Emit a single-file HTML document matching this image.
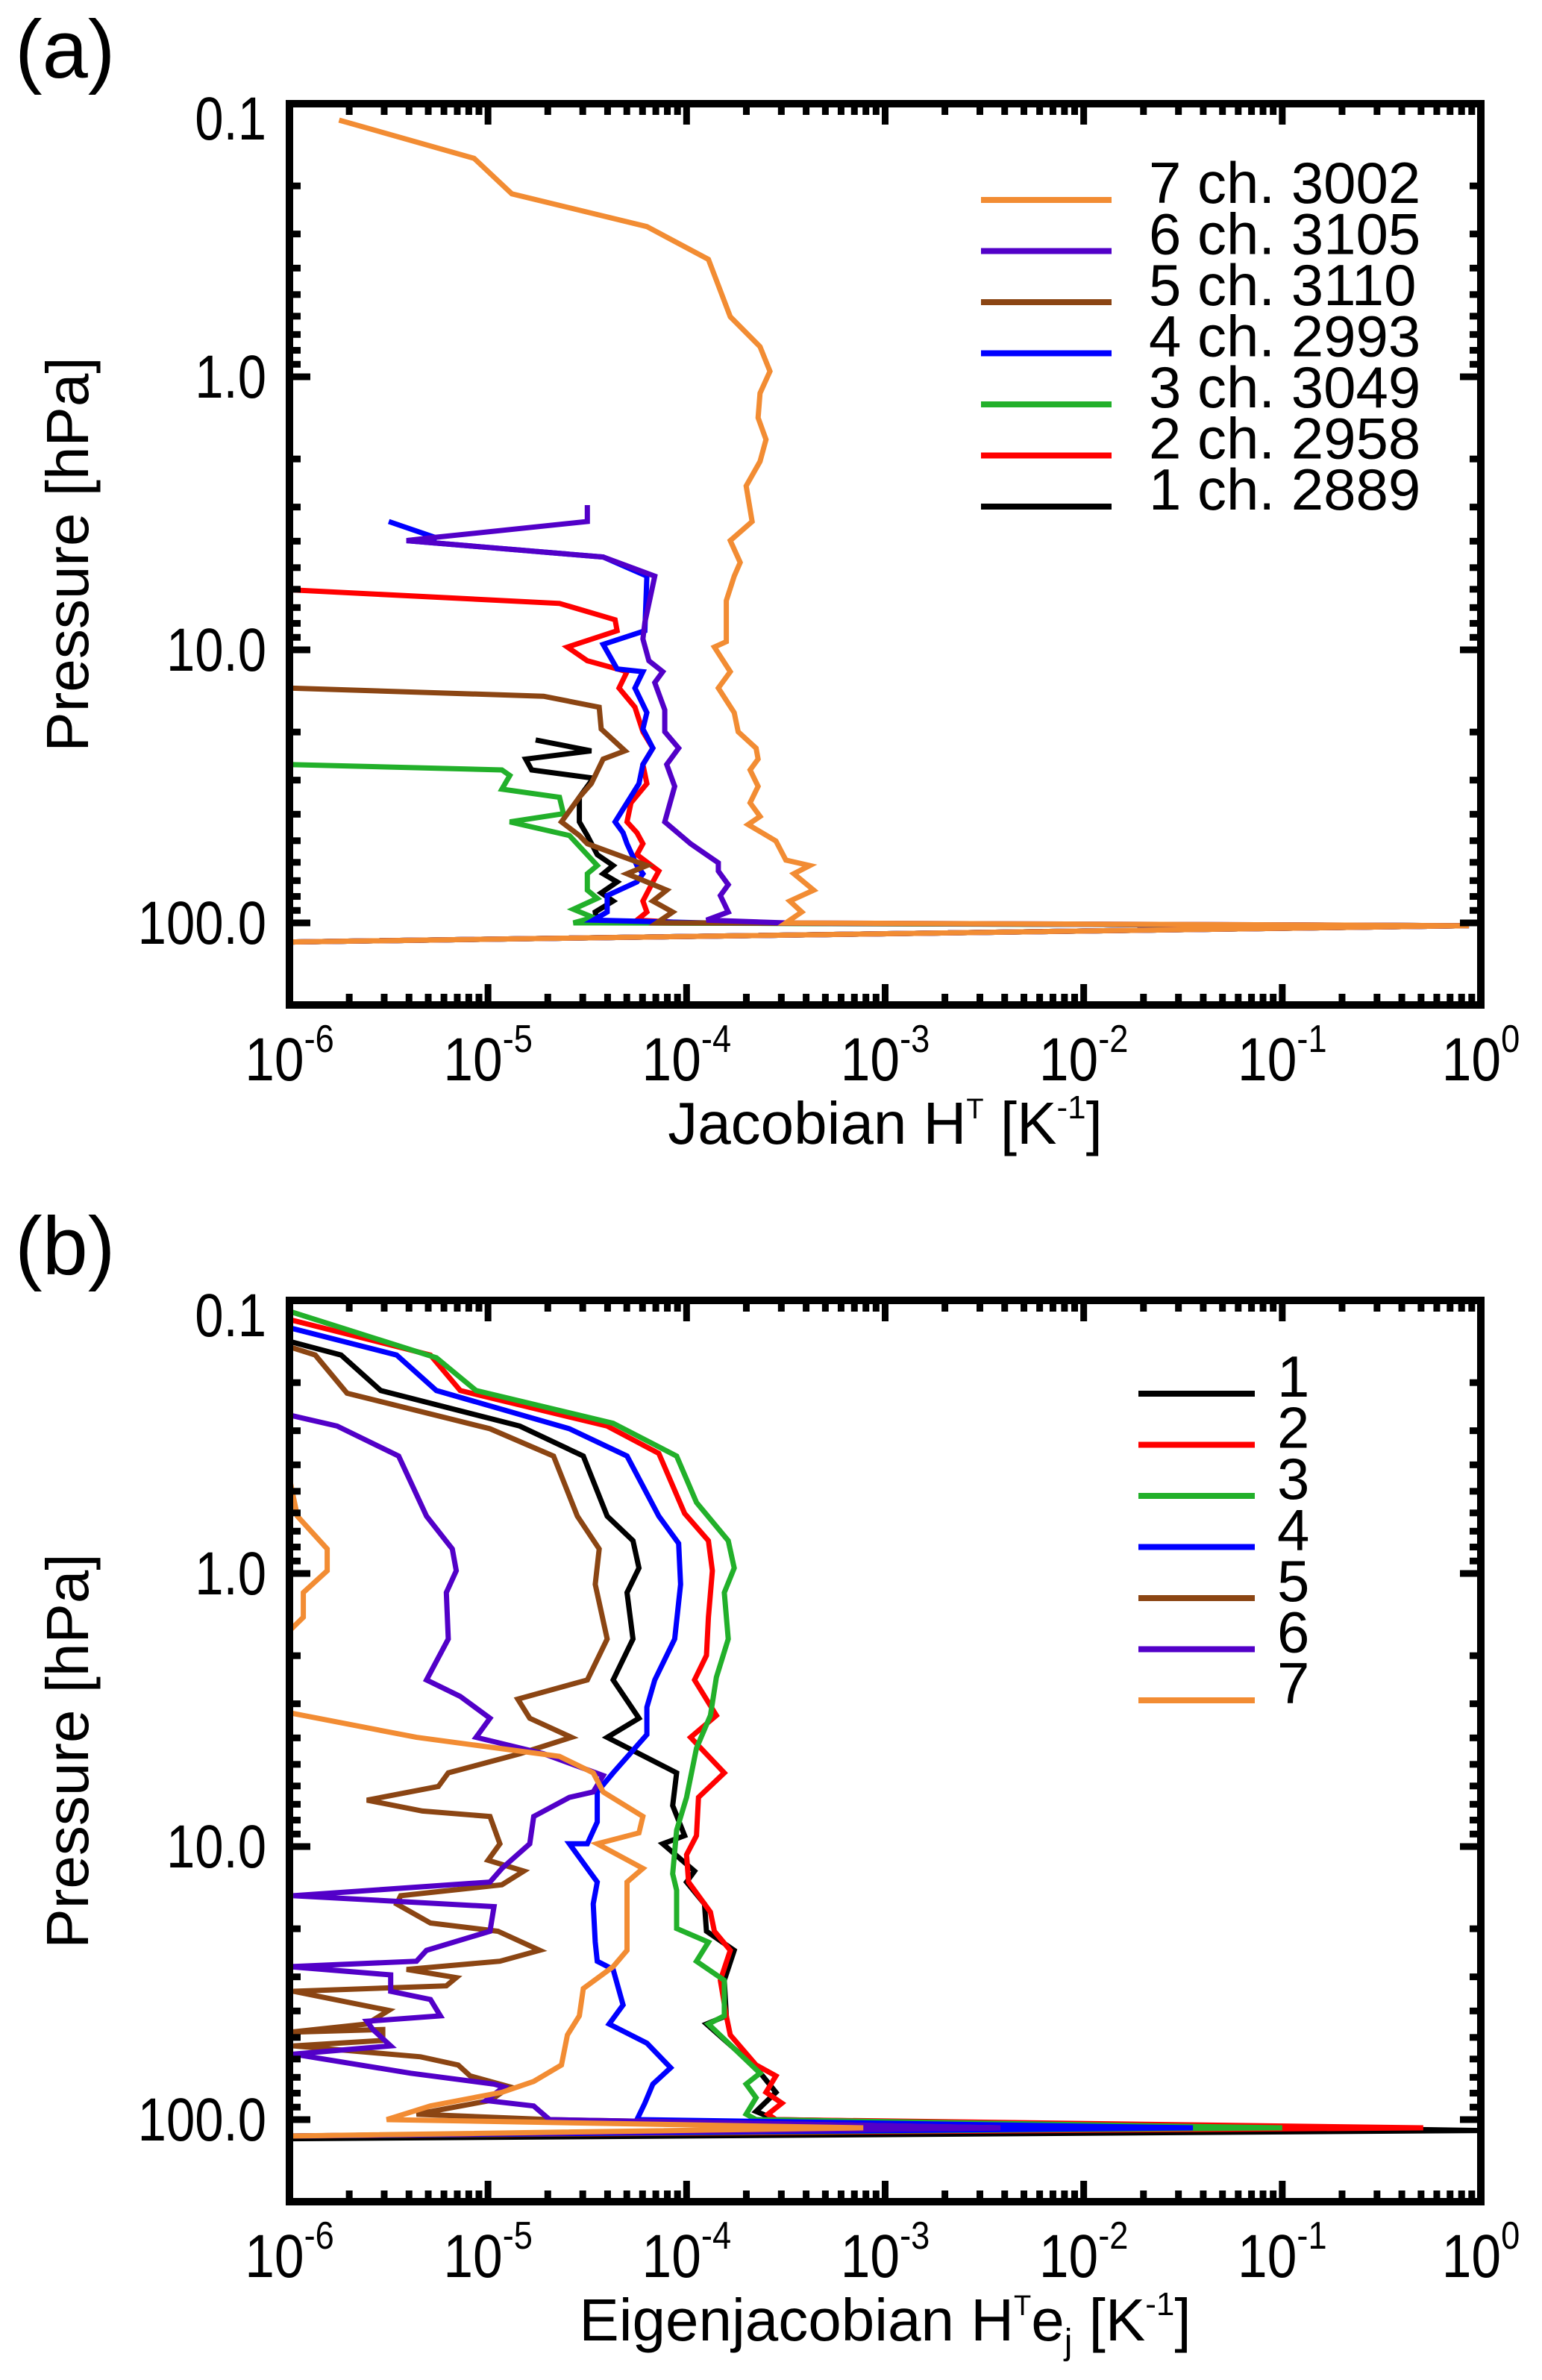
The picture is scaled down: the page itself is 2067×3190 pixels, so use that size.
<!DOCTYPE html>
<html><head><meta charset="utf-8"><style>
html,body{margin:0;padding:0;background:#fff;}
svg{display:block;font-family:"Liberation Sans",Arial,sans-serif;}
</style></head><body>
<svg id="fig" width="2067" height="3190" viewBox="0 0 2067 3190" xmlns="http://www.w3.org/2000/svg">
<defs>
<clipPath id="clipA"><rect x="388" y="139" width="1597" height="1208"/></clipPath>
<clipPath id="clipB"><rect x="388" y="1743" width="1597" height="1206"/></clipPath>
</defs>
<text x="20" y="104" font-size="110">(a)</text>
<text x="20" y="1708" font-size="110">(b)</text>
<g id="panelA"></g>
<g id="panelB"></g>
</svg>
<script>
// ---- axis tick values ----
const xTickExps = [-6, -5, -4, -3, -2, -1, 0];
const yTickLabels = ["0.1", "1.0", "10.0", "100.0"];
const yTickLogs = [-1, 0, 1, 2];
const colors = {1:"#000000",2:"#ff0000",3:"#22b02a",4:"#0000ff",5:"#8b4513",6:"#5200c8",7:"#f28c33"};

// ---- panel (a) legend ----
const aLegendOrder = [7, 6, 5, 4, 3, 2, 1];
const aLegendLabels = ["7 ch. 3002", "6 ch. 3105", "5 ch. 3110", "4 ch. 2993", "3 ch. 3049", "2 ch. 2958", "1 ch. 2889"];
// ---- panel (b) legend ----
const bLegendOrder = [1, 2, 3, 4, 5, 6, 7];
const bLegendLabels = ["1", "2", "3", "4", "5", "6", "7"];

// ---- panel (a) data: log10 Jacobian [K^-1] vs log10 pressure [hPa] ----
const a1LogJac = [-4.76,-4.48,-4.81,-4.78,-4.47,-4.54,-4.54,-4.50,-4.45,-4.37,-4.42,-4.35,-4.43,-4.37,-4.46,-4.45,-4.20,-0.06,-6];
const a1LogP   = [1.33,1.37,1.40,1.44,1.47,1.54,1.63,1.68,1.75,1.79,1.82,1.85,1.89,1.92,1.96,2.00,2.00,2.01,2.07];
const a2LogJac = [-6,-4.64,-4.36,-4.35,-4.60,-4.50,-4.30,-4.34,-4.26,-4.22,-4.17,-4.22,-4.20,-4.28,-4.30,-4.25,-4.22,-4.25,-4.14,-4.17,-4.22,-4.20,-4.25,-4.00,-0.06,-6];
const a2LogP   = [0.78,0.83,0.89,0.93,0.99,1.04,1.08,1.14,1.21,1.30,1.36,1.42,1.49,1.56,1.63,1.67,1.71,1.75,1.81,1.85,1.92,1.96,1.99,2.00,2.01,2.07];
const a3LogJac = [-6,-4.93,-4.89,-4.93,-4.64,-4.62,-4.89,-4.59,-4.45,-4.50,-4.50,-4.45,-4.57,-4.47,-4.57,-4.45,-0.06,-6];
const a3LogP   = [1.42,1.44,1.46,1.51,1.54,1.60,1.63,1.68,1.79,1.82,1.88,1.91,1.95,1.98,2.00,2.00,2.01,2.07];
const a4LogJac = [-5.50,-5.26,-5.41,-4.42,-4.20,-4.21,-4.42,-4.35,-4.22,-4.26,-4.20,-4.22,-4.17,-4.22,-4.24,-4.30,-4.36,-4.32,-4.30,-4.25,-4.22,-4.25,-4.40,-4.40,-4.47,-3.90,-0.06,-6];
const a4LogP   = [0.53,0.59,0.60,0.66,0.73,0.93,0.98,1.07,1.08,1.14,1.23,1.29,1.36,1.42,1.49,1.56,1.63,1.67,1.71,1.79,1.82,1.85,1.90,1.96,1.99,2.00,2.01,2.07];
const a5LogJac = [-6,-4.72,-4.44,-4.43,-4.31,-4.42,-4.48,-4.54,-4.63,-4.54,-4.50,-4.20,-4.30,-4.10,-4.17,-4.07,-4.15,-3.90,-0.06,-6];
const a5LogP   = [1.14,1.17,1.21,1.29,1.37,1.40,1.49,1.54,1.63,1.68,1.71,1.79,1.82,1.88,1.92,1.96,2.00,2.00,2.01,2.07];
const a6LogJac = [-4.50,-4.50,-5.29,-5.41,-4.42,-4.16,-4.21,-4.22,-4.19,-4.12,-4.16,-4.11,-4.11,-4.04,-4.10,-4.06,-4.11,-3.98,-3.84,-3.84,-3.79,-3.83,-3.79,-3.90,-3.50,-0.06,-6];
const a6LogP   = [0.47,0.53,0.59,0.60,0.66,0.73,0.90,0.96,1.04,1.08,1.12,1.22,1.30,1.36,1.42,1.50,1.63,1.71,1.78,1.81,1.86,1.90,1.96,1.99,2.00,2.01,2.07];
const a7LogJac = [-5.75,-5.07,-4.88,-4.20,-3.89,-3.78,-3.63,-3.58,-3.63,-3.64,-3.60,-3.63,-3.70,-3.67,-3.78,-3.73,-3.76,-3.80,-3.80,-3.86,-3.78,-3.84,-3.76,-3.74,-3.65,-3.64,-3.68,-3.64,-3.68,-3.63,-3.69,-3.55,-3.50,-3.38,-3.46,-3.36,-3.48,-3.42,-3.50,-0.06,-6];
const a7LogP   = [-0.94,-0.80,-0.67,-0.55,-0.43,-0.22,-0.11,-0.02,0.06,0.15,0.23,0.31,0.40,0.53,0.60,0.68,0.73,0.82,0.97,0.99,1.08,1.14,1.23,1.30,1.36,1.40,1.44,1.50,1.56,1.61,1.64,1.70,1.77,1.79,1.82,1.88,1.92,1.96,2.00,2.01,2.07];

// ---- panel (b) data: log10 Eigenjacobian [K^-1] vs log10 pressure [hPa] (null = gap) ----
const b1LogJac = [-6,-5.74,-5.54,-4.84,-4.52,-4.40,-4.27,-4.24,-4.30,-4.27,-4.37,-4.24,-4.40,-4.05,-4.07,-4.01,-4.12,-3.96,-4.00,-3.91,-3.90,-3.76,-3.81,-3.80,-3.90,-3.76,-3.65,-3.55,-3.65,-3.55,0,-6];
const b1LogP   = [-0.85,-0.80,-0.67,-0.54,-0.43,-0.21,-0.12,-0.02,0.07,0.24,0.39,0.53,0.60,0.73,0.85,0.96,0.99,1.09,1.13,1.21,1.31,1.38,1.49,1.62,1.65,1.74,1.81,1.90,1.97,2.00,2.04,2.07];
const b2LogJac = [-6,-5.29,-5.14,-4.40,-4.14,-4.01,-3.89,-3.87,-3.89,-3.90,-3.96,-3.85,-3.98,-3.81,-3.94,-3.95,-4.00,-3.99,-3.88,-3.86,-3.78,-3.83,-3.80,-3.78,-3.65,-3.55,-3.60,-3.52,-3.59,-3.55,-0.29,-6];
const b2LogP   = [-0.93,-0.80,-0.67,-0.54,-0.44,-0.22,-0.12,-0.01,0.16,0.30,0.39,0.52,0.60,0.73,0.82,0.96,1.03,1.13,1.24,1.31,1.38,1.49,1.62,1.69,1.80,1.84,1.90,1.94,1.98,2.00,2.03,2.06];
const b3LogJac = [-6,-5.26,-5.06,-4.37,-4.05,-3.95,-3.79,-3.76,-3.81,-3.79,-3.85,-3.88,-3.95,-4.00,-4.05,-4.07,-4.05,-4.05,-3.89,-3.95,-3.81,-3.81,-3.89,-3.76,-3.63,-3.70,-3.65,-3.70,-3.65,-1.0,-6];
const b3LogP   = [-0.96,-0.79,-0.67,-0.55,-0.43,-0.26,-0.12,-0.02,0.07,0.24,0.38,0.52,0.64,0.82,0.94,1.10,1.16,1.30,1.35,1.42,1.49,1.62,1.65,1.74,1.83,1.87,1.92,1.98,2.00,2.03,2.06];
const b4LogJac = [-6,-5.46,-5.26,-4.59,-4.30,-4.14,-4.04,-4.03,-4.06,-4.16,-4.20,-4.20,-4.37,-4.45,-4.45,-4.50,-4.59,-4.50,-4.45,-4.47,-4.46,-4.45,-4.37,-4.32,-4.39,-4.20,-4.08,-4.17,-4.21,-4.25,-1.45,-6];
const b4LogP   = [-0.90,-0.80,-0.67,-0.53,-0.43,-0.21,-0.11,0.04,0.24,0.39,0.49,0.59,0.73,0.80,0.91,0.99,0.99,1.08,1.13,1.21,1.35,1.42,1.45,1.58,1.65,1.72,1.81,1.87,1.94,2.00,2.03,2.06];
const b5LogJac = [-6,-5.87,-5.71,-4.99,-4.67,-4.55,-4.44,-4.46,-4.40,-4.50,-4.85,-4.79,-4.58,-4.84,-5.20,-5.25,-5.61,-5.33,-4.99,-4.94,-5.00,-4.82,-4.93,-5.44,-5.46,-5.29,-4.95,-4.74,-4.94,-5.41,-5.16,-5.21,-5.98,-5.50,-5.61,-6,-5.53,-5.53,-5.98,-5.34,-5.15,-5.09,-4.89,-4.99,-5.36,-4.69,-2.42,-6];
const b5LogP   = [-0.83,-0.80,-0.66,-0.53,-0.43,-0.21,-0.09,0.04,0.24,0.39,0.46,0.53,0.60,0.66,0.73,0.78,0.83,0.87,0.89,0.99,1.05,1.09,1.14,1.18,1.21,1.28,1.31,1.38,1.42,1.45,1.48,1.51,1.53,1.60,1.65,1.68,1.67,1.71,1.73,1.77,1.80,1.84,1.88,1.93,1.98,2.00,2.03,2.06];
const b6LogJac = [-6,-5.76,-5.45,-5.31,-5.18,-5.16,-5.21,-5.20,-5.31,-5.14,-4.99,-5.06,-4.72,-4.42,-4.47,-4.59,-4.77,-4.79,-4.93,-4.99,-5.98,-4.97,-4.99,-5.31,-5.36,-6,-5.49,-5.49,-5.29,-5.24,-5.61,-5.58,-5.49,-5.98,-5.39,-4.97,-4.92,-5.01,-4.77,-4.69,-2.42,-6];
const b6LogP   = [-0.58,-0.54,-0.43,-0.21,-0.09,-0.01,0.07,0.24,0.39,0.45,0.53,0.60,0.66,0.74,0.80,0.82,0.89,0.99,1.08,1.13,1.18,1.22,1.31,1.38,1.42,1.44,1.47,1.53,1.56,1.62,1.64,1.67,1.73,1.76,1.83,1.87,1.88,1.93,1.95,2.00,2.03,2.06];
const b7LogJac = [-6,-5.96,-5.81,-5.81,-5.93,-5.93,-6,null,-6,-5.36,-4.64,-4.47,-4.42,-4.22,-4.24,-4.45,-4.22,-4.30,-4.30,-4.37,-4.52,-4.54,-4.60,-4.63,-4.77,-4.93,-5.29,-5.51,-3.11,-6];
const b7LogP   = [-0.35,-0.21,-0.09,-0.01,0.07,0.16,0.21,null,0.51,0.60,0.67,0.73,0.80,0.89,0.95,0.99,1.08,1.13,1.38,1.44,1.52,1.62,1.69,1.80,1.86,1.90,1.95,2.00,2.03,2.06];

const NS = "http://www.w3.org/2000/svg";
const PL = 388, PR = 1985, PH = 1208;
function mk(tag, attrs, parent) {
  const e = document.createElementNS(NS, tag);
  for (const k in attrs) e.setAttribute(k, attrs[k]);
  if (parent) parent.appendChild(e);
  return e;
}
function xScale(lg) { return PL + (lg + 6) / 6 * (PR - PL); }
function makeY(top) { return lg => top + (lg + 1) / 3 * 1098; }

function drawPanel(g, top, series, legendOrder, legendLabels, legendX0, legendX1, legendY0, legendTextX, xTitleParts, clipId) {
  const yScale = makeY(top);
  const bottom = top + PH;
  // series
  const sg = mk("g", {"clip-path": "url(#" + clipId + ")"}, g);
  
  
  for (const s of series) {
    let d = "", pen = false;
    for (let i = 0; i < s.x.length; i++) {
      if (s.x[i] === null) { pen = false; continue; }
      d += (pen ? "L" : "M") + xScale(s.x[i]).toFixed(1) + "," + yScale(s.p[i]).toFixed(1);
      pen = true;
    }
    const path = mk("path", {d: d, fill: "none", stroke: colors[s.id], "stroke-width": 7, "stroke-linejoin": "miter"}, sg);
    
    
  }
  // axes frame
  const frame = mk("rect", {x: PL, y: top, width: PR - PL, height: PH, fill: "none", stroke: "#000", "stroke-width": 10}, g);
  
  
  // x ticks
  const tg = mk("g", {stroke: "#000", "stroke-width": 9}, g);
  
  
  for (let e = -6; e <= 0; e++) {
    for (let m = 1; m <= 9; m++) {
      const lg = e + Math.log10(m);
      if (lg > 0) break;
      const x = xScale(lg);
      const L = m === 1 ? 28 : 15;
      mk("line", {x1: x, y1: top, x2: x, y2: top + L}, tg);
      mk("line", {x1: x, y1: bottom, x2: x, y2: bottom - L}, tg);
    }
  }
  // y ticks (0.1 .. 200)
  for (let e = -1; e <= 2; e++) {
    for (let m = 1; m <= 9; m++) {
      const lg = e + Math.log10(m);
      const y = yScale(lg);
      if (y > bottom + 1) break;
      const L = m === 1 ? 28 : 15;
      mk("line", {x1: PL, y1: y, x2: PL + L, y2: y}, tg);
      mk("line", {x1: PR, y1: y, x2: PR - L, y2: y}, tg);
    }
  }
  // x tick labels
  xTickExps.forEach(e => {
    const grp = mk("g", {transform: "translate(" + xScale(e) + "," + (top + 1309) + ") scale(0.87,1)"}, g);
    
    
    const t = mk("text", {x: 0, y: 0, "font-size": 82, "text-anchor": "middle"}, grp);
    const t1 = mk("tspan", {}, t); t1.textContent = "10";
    const t2 = mk("tspan", {dy: -38, "font-size": 52}, t); t2.textContent = (e === 0 ? "0" : "-" + (-e));
  });
  // y tick labels
  yTickLogs.forEach((lg, i) => {
    const y = yScale(lg) + (lg === -1 ? 48 : 28);
    const grp = mk("g", {transform: "translate(357," + y + ") scale(0.84,1)"}, g);
    
    
    const t = mk("text", {x: 0, y: 0, "font-size": 82, "text-anchor": "end"}, grp);
    t.textContent = yTickLabels[i];
  });
  // y title
  const yt = mk("text", {x: 0, y: 0, "font-size": 80, "text-anchor": "middle", transform: "translate(118," + (top + 604) + ") rotate(-90)"}, g);
  
  
  yt.textContent = "Pressure [hPa]";
  // x title
  const xt = mk("text", {x: (PL + PR) / 2, y: top + 1394, "font-size": 80, "text-anchor": "middle"}, g);
  
  
  xTitleParts.forEach(pt => {
    const ts = mk("tspan", pt.a || {}, xt); ts.textContent = pt.t;
  });
  // legend
  legendOrder.forEach((id, i) => {
    const y = legendY0 + i * 68.5;
    const lg = mk("g", {}, g);
    
    
    mk("line", {x1: legendX0, y1: y, x2: legendX1, y2: y, stroke: colors[id], "stroke-width": 8}, lg);
    const t = mk("text", {x: legendTextX, y: y + 4, "font-size": 78}, lg);
    t.textContent = legendLabels[i];
  });
}

const seriesA = [
  {id:1,x:a1LogJac,p:a1LogP},{id:2,x:a2LogJac,p:a2LogP},{id:3,x:a3LogJac,p:a3LogP},
  {id:4,x:a4LogJac,p:a4LogP},{id:5,x:a5LogJac,p:a5LogP},{id:6,x:a6LogJac,p:a6LogP},{id:7,x:a7LogJac,p:a7LogP}];
const seriesB = [
  {id:1,x:b1LogJac,p:b1LogP},{id:2,x:b2LogJac,p:b2LogP},{id:3,x:b3LogJac,p:b3LogP},
  {id:4,x:b4LogJac,p:b4LogP},{id:5,x:b5LogJac,p:b5LogP},{id:6,x:b6LogJac,p:b6LogP},{id:7,x:b7LogJac,p:b7LogP}];

drawPanel(document.getElementById("panelA"), 139, seriesA, aLegendOrder, aLegendLabels, 1315, 1490, 268, 1540,
  [{t:"Jacobian H"},{t:"T",a:{dy:-34,"font-size":38}},{t:" [K",a:{dy:34}},{t:"-1",a:{dy:-34,"font-size":44}},{t:"]",a:{dy:34}}], "clipA");
drawPanel(document.getElementById("panelB"), 1743, seriesB, bLegendOrder, bLegendLabels, 1526, 1682, 1868, 1712,
  [{t:"Eigenjacobian H"},{t:"T",a:{dy:-34,"font-size":38}},{t:"e",a:{dy:34}},{t:"j",a:{dy:18,"font-size":48}},{t:" [K",a:{dy:-18}},{t:"-1",a:{dy:-34,"font-size":44}},{t:"]",a:{dy:34}}], "clipB");
</script>
</body></html>
